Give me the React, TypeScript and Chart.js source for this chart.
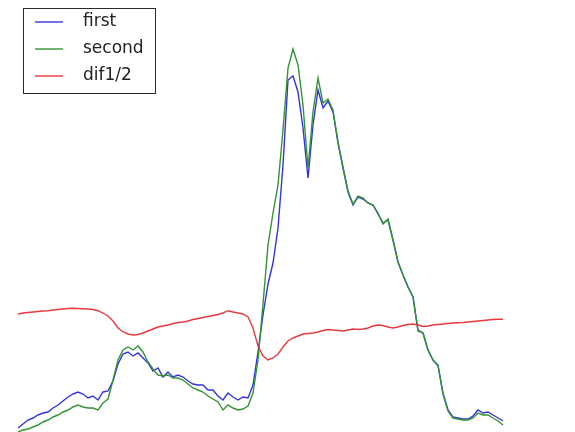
import React, { useEffect, useRef } from "react";
import { Chart, registerables } from "chart.js";

Chart.register(...registerables);

// Readings taken every sample step along the x axis (98 samples)
const first = [
  4, 8, 12, 14, 17, 19, 20, 24, 27, 31, 35, 38, 40, 38, 34, 36, 32, 40, 41, 51,
  68, 78, 80, 76, 79, 74, 69, 61, 64, 55, 60, 55, 57, 55, 51, 48, 47, 47, 42, 42,
  36, 32, 39, 35, 32, 35, 34, 47, 80, 117, 148, 169, 204, 267, 352, 356, 340, 304, 254, 307,
  342, 324, 331, 320, 289, 264, 240, 227, 235, 233, 229, 227, 218, 209, 212, 192, 170, 157, 145, 135,
  102, 99, 82, 72, 67, 39, 22, 15, 14, 13, 13, 16, 22, 19, 20, 17, 14, 11,
];
const second = [
  0, 2, 3, 5, 7, 10, 12, 15, 17, 20, 22, 25, 27, 25, 24, 24, 22, 29, 33, 52,
  72, 82, 85, 82, 86, 80, 70, 63, 57, 56, 57, 54, 54, 52, 48, 44, 42, 40, 36, 33,
  30, 22, 27, 24, 22, 23, 26, 39, 72, 128, 187, 219, 247, 302, 364, 383, 367, 327, 264, 320,
  354, 329, 333, 322, 290, 265, 241, 228, 236, 234, 229, 227, 219, 208, 213, 192, 170, 157, 145, 135,
  101, 99, 82, 72, 66, 38, 21, 14, 13, 12, 12, 14, 19, 17, 17, 14, 11, 7,
];
const dif12 = [
  118, 119, 119.5, 120, 120.5, 121, 121.3, 122, 122.5, 123, 123.5, 123.7, 123.5, 123.3, 123, 122.5, 121.3, 119, 116, 111,
  104, 100, 98, 97, 97.5, 99, 101, 103, 105, 106, 107, 108.5, 109.5, 110, 111, 112.5, 113.5, 114.5, 115.5, 116.5,
  117.5, 119, 121.3, 120, 119, 118, 115, 104, 86, 76, 72, 74, 78, 85, 91, 94, 96, 98, 98.5, 99,
  100, 101.5, 102.5, 102, 101.5, 101, 102, 103, 102.5, 103, 104, 106, 107, 106.5, 105, 104, 105, 106.5, 107.5, 108,
  107, 105.5, 106, 107, 107.5, 108, 108.5, 109, 109.2, 109.5, 110, 110.5, 111, 111.5, 112, 112.5, 112.7, 112.8,
];
const seriesLabels = ["first", "second", "dif1/2"];
const seriesColors = ["#3434dc", "#339433", "#e8393f"];
const samples = first.map((_, i) => i);

const legendPlugin = {
  id: "boxLegend",
  afterDraw(chart: any) {
    const ctx = chart.ctx as CanvasRenderingContext2D;
    ctx.save();
    ctx.fillStyle = "#ffffff";
    ctx.fillRect(23.5, 8.5, 132, 85);
    ctx.strokeStyle = "#2a2a2a";
    ctx.lineWidth = 1;
    ctx.strokeRect(23.5, 8.5, 132, 85);
    ctx.font = "17px 'DejaVu Sans'";
    ctx.textBaseline = "middle";
    chart.data.datasets.forEach((ds: any, i: number) => {
      const y = 22 + i * 27;
      ctx.strokeStyle = ds.borderColor;
      ctx.lineWidth = 1.4;
      ctx.beginPath();
      ctx.moveTo(35, y);
      ctx.lineTo(63, y);
      ctx.stroke();
      ctx.fillStyle = "#222222";
      ctx.fillText(ds.label, 83, y);
    });
    ctx.restore();
  },
};

export default function App() {
  const ref = useRef<HTMLCanvasElement | null>(null);
  useEffect(() => {
    if (!ref.current) return;
    const all = [first, second, dif12];
    const chart = new Chart(ref.current, {
      type: "line",
      data: {
        datasets: all.map((vals, k) => ({
          label: seriesLabels[k],
          data: vals.map((v, i) => ({ x: samples[i], y: v })),
          borderColor: seriesColors[k],
          borderWidth: 1.4,
          pointRadius: 0,
          tension: 0,
          fill: false,
          order: 2 - k,
        })),
      },
      options: {
        animation: false,
        responsive: false,
        layout: { padding: 0 },
        plugins: { legend: { display: false }, tooltip: { enabled: false } },
        scales: {
          x: { type: "linear", display: false, min: -3.6, max: 111.4 },
          y: { type: "linear", display: false, min: 0, max: 432 },
        },
      },
      plugins: [legendPlugin],
    });
    return () => chart.destroy();
  }, []);
  return (
    <div style={{ position: "fixed", left: 0, top: 0, width: 575, height: 432, background: "#fff" }}>
      <canvas ref={ref} width={575} height={432} />
    </div>
  );
}
